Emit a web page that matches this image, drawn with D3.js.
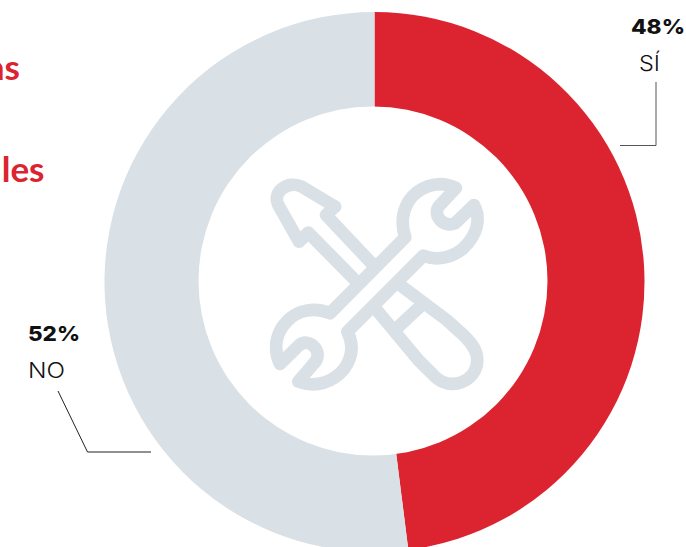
<!DOCTYPE html>
<html><head><meta charset="utf-8">
<script src="https://cdnjs.cloudflare.com/ajax/libs/d3/7.8.5/d3.min.js"></script>
<style>html,body{margin:0;padding:0;background:#fff}svg{display:block}</style></head>
<body><svg id="c" width="686" height="547"></svg>
<script>
const categories=["SÍ","NO"];
const values=[48,52];
const colors=["#DC2330","#D9E0E6"];
const titleFragments=[{t:"as",x:20,y:80},{t:"les",x:44.5,y:182}];
const labels=[
 {pct:"48%",pw:54,name:"SÍ",nw:21,px:631,py:34,nx:639,ny:71,leader:[[656,82],[656,145.5],[620,145.5]],stroke:"#555"},
 {pct:"52%",pw:52,name:"NO",nw:37,px:28,py:341,nx:28,ny:378,leader:[[58,391],[87.5,452],[151,452]],stroke:"#222"}
];
const svg=d3.select("#c");
const cx=374.5,cy=282,R=270;
const pie=d3.pie().sort(null).value(d=>d);
const arc=d3.arc().innerRadius(0).outerRadius(R);
svg.append("g").attr("transform",`translate(${cx},${cy})`)
  .selectAll("path").data(pie(values)).join("path")
  .attr("d",arc).attr("fill",(d,i)=>colors[i]);
// donut hole sits slightly off-centre in the reference
svg.append("circle").attr("cx",373).attr("cy",281).attr("r",174.5).attr("fill","#fff");

svg.selectAll("text.frag").data(titleFragments).join("text").attr("class","frag")
  .attr("x",d=>d.x).attr("y",d=>d.y).attr("text-anchor","end")
  .attr("font-family","Lato").attr("font-weight",700).attr("font-size",35).attr("fill","#DC2330").text(d=>d.t);

const line=d3.line();
labels.forEach(l=>{
  svg.append("path").attr("d",line(l.leader)).attr("fill","none").attr("stroke",l.stroke).attr("stroke-width",1);
  svg.append("text").attr("x",l.px).attr("y",l.py).attr("font-family","Inter").attr("font-weight",800)
    .attr("font-size",20.5).attr("fill","#111").attr("textLength",l.pw).attr("lengthAdjust","spacingAndGlyphs").text(l.pct);
  svg.append("text").attr("x",l.nx).attr("y",l.ny).attr("font-family","Inter").attr("font-weight",300)
    .attr("font-size",21).attr("fill","#111").attr("textLength",l.nw).attr("lengthAdjust","spacingAndGlyphs").text(l.name);
});

// decorative tools icon (crop-space coordinates, 3x)
const icon=svg.append("g").attr("transform","translate(250,160) scale(0.3333)")
  .attr("fill","none").attr("stroke","#D9E0E6").attr("stroke-width",38)
  .attr("stroke-linejoin","round").attr("stroke-linecap","round");
icon.append("path").attr("d","M618,84 C560,55 500,85 475,125 C455,160 455,200 466,232 L240,460 C195,440 140,450 110,485 C75,520 70,570 90,612 L148,555 C180,530 225,580 190,612 L145,665 C200,685 250,665 280,630 C310,590 310,550 292,515 L520,287 C565,305 610,290 640,265 C680,225 695,180 672,135 L615,190 C575,205 545,160 570,135 Z");
icon.append("path").attr("d","M255,140 L155,80 C115,60 65,95 85,135 L147,245 L175,218 L310,355");
icon.append("path").attr("d","M255,140 L228,165 L365,310");
icon.append("path").attr("d","M380,450 L505,600 L555,650 C600,695 682,665 682,600 C682,565 655,540 640,525 L590,480 L450,375");
icon.append("path").attr("d","M510,440 L440,505");
</script></body></html>
